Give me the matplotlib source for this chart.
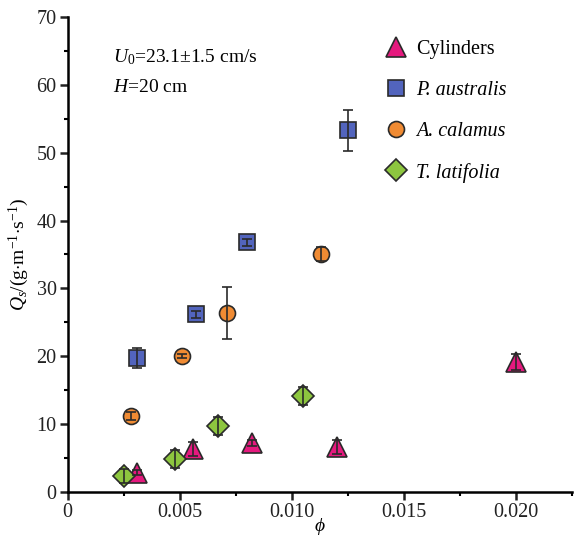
import matplotlib
matplotlib.use("Agg")
import matplotlib.pyplot as plt
from matplotlib.ticker import MultipleLocator

plt.rcParams['font.family'] = ['Liberation Serif', 'DejaVu Serif']
plt.rcParams['mathtext.fontset'] = 'custom'
plt.rcParams['mathtext.rm'] = 'Liberation Serif'
plt.rcParams['mathtext.it'] = 'Liberation Serif:italic'

# Cylinders
cyl_x = [0.0031, 0.0056, 0.0082, 0.0120, 0.0200]
cyl_y = [2.8, 6.3, 7.2, 6.6, 19.1]
cyl_err = [0.4, 1.0, 0.5, 1.0, 1.2]

# P. australis
pa_x = [0.0031, 0.0057, 0.0080, 0.0125]
pa_y = [19.7, 26.2, 36.8, 53.3]
pa_err = [1.5, 0.5, 0.5, 3.0]

# A. calamus
ac_x = [0.0028, 0.0051, 0.0071, 0.0113]
ac_y = [11.2, 20.0, 26.4, 35.1]
ac_err = [0.6, 0.3, 3.8, 1.0]

# T. latifolia
tl_x = [0.0025, 0.0048, 0.0067, 0.0105]
tl_y = [2.3, 4.8, 9.7, 14.1]
tl_err = [1.0, 1.3, 1.3, 1.3]

series = [
    ("Cylinders", cyl_x, cyl_y, cyl_err, "^", "#e5197e", 14.5),
    ("P. australis", pa_x, pa_y, pa_err, "s", "#5264bd", 11),
    ("A. calamus", ac_x, ac_y, ac_err, "o", "#f08b33", 11.5),
    ("T. latifolia", tl_x, tl_y, tl_err, "D", "#8dc63f", 11),
]

fig = plt.figure(figsize=(5.74, 5.38), dpi=100)
ax = fig.add_axes([0.118, 0.086, 0.879, 0.882])

for label, x, y, err, mk, col, ms in series:
    ax.plot(x, y, linestyle="none", marker=mk, markersize=ms,
            markerfacecolor=col, markeredgecolor="#2a2a2a",
            markeredgewidth=1.2, label=label, zorder=2)
    ax.errorbar(x, y, yerr=err, fmt="none", ecolor="#2a2a2a",
                elinewidth=1.2, capsize=3.8, capthick=1.2, zorder=3)

ax.set_xlim(0, 0.0225)
ax.set_ylim(0, 70)
ax.xaxis.set_major_locator(MultipleLocator(0.005))
ax.xaxis.set_minor_locator(MultipleLocator(0.0025))
ax.yaxis.set_major_locator(MultipleLocator(10))
ax.yaxis.set_minor_locator(MultipleLocator(5))
ax.set_xticks([0, 0.005, 0.010, 0.015, 0.020])
ax.set_xticklabels(["0", "0.005", "0.010", "0.015", "0.020"])

for side in ["top", "right"]:
    ax.spines[side].set_visible(False)
for side in ["left", "bottom"]:
    ax.spines[side].set_linewidth(1.8)
ax.tick_params(which="major", direction="out", length=6, width=1.8,
               labelsize=14.5, colors="#222222", pad=2)
ax.tick_params(which="minor", direction="out", length=3, width=1.5)

ax.set_xlabel(r"$\it{\phi}$", fontsize=14)
ax.xaxis.set_label_coords(0.5, -0.052)
ax.set_ylabel(r"$\it{Q_s}$/(g$\cdot$m$^{-1}$$\cdot$s$^{-1}$)", fontsize=14, labelpad=4)

ax.text(0.0020, 64.1, r"$\it{U}_0$=23.1±1.5 cm/s", fontsize=14, va="center")
ax.text(0.0020, 59.6, r"$\it{H}$=20 cm", fontsize=14, va="center")

leg = ax.legend(loc="upper right", bbox_to_anchor=(0.905, 0.99), frameon=False,
                fontsize=14.5, labelspacing=1.08, handletextpad=0.4,
                handlelength=1.2)
for t in leg.get_texts()[1:]:
    t.set_fontstyle("italic")

fig.savefig("out.png", dpi=100)
